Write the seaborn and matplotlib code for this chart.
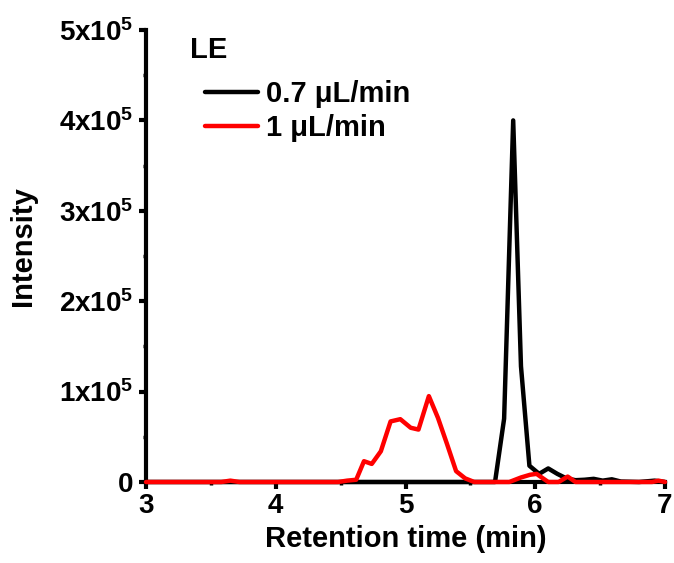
import numpy as np
import pandas as pd
import matplotlib
matplotlib.use('Agg')
import matplotlib.pyplot as plt
import seaborn as sns
from matplotlib.ticker import MultipleLocator, FuncFormatter

t_07 = [3.0, 5.62, 5.69, 5.76, 5.83, 5.89, 5.955, 6.03, 6.10, 6.17, 6.24, 6.31,
        6.38, 6.45, 6.52, 6.59, 6.66, 6.80, 6.92, 7.0]
i_07 = [0, 0, 0, 70000, 400000, 128000, 18000, 9000, 15000, 9000, 4000, 2000,
        2500, 3500, 1500, 3000, 500, 0, 1500, 0]

t_1 = [3.0, 3.58, 3.65, 3.72, 4.48, 4.55, 4.62, 4.68, 4.74, 4.81, 4.885, 4.96,
       5.04, 5.10, 5.18, 5.25, 5.32, 5.39, 5.46, 5.53, 5.80, 5.89, 5.96, 6.01,
       6.10, 6.18, 6.25, 6.31, 6.90, 6.95, 7.0]
i_1 = [0, 0, 1500, 0, 0, 1500, 2500, 23000, 20000, 34000, 67000, 69500,
       60000, 58000, 95000, 71000, 42000, 12000, 4000, 0, 0, 5000, 8000, 9000,
       0, 0, 6000, 0, 0, 1500, 0]

labels = ['0.7 \u03bcL/min', '1 \u03bcL/min']
colores = ['black', 'red']

sns.set_style('ticks')
plt.rcParams['font.family'] = ['Liberation Sans', 'DejaVu Sans']
plt.rcParams['font.weight'] = 'bold'
plt.rcParams['mathtext.fontset'] = 'custom'
plt.rcParams['mathtext.rm'] = 'Liberation Sans:bold'
plt.rcParams['mathtext.bf'] = 'Liberation Sans:bold'
plt.rcParams['mathtext.default'] = 'rm'
for k in ['text.color', 'axes.labelcolor', 'xtick.color', 'ytick.color', 'axes.edgecolor']:
    plt.rcParams[k] = 'black'

fig = plt.figure(figsize=(6.74, 5.63), dpi=100)
ax = fig.add_axes([146/674, (563-482)/563, (665-146)/674, (482-30)/563])

df07 = pd.DataFrame({'t': t_07, 'I': i_07})
df1 = pd.DataFrame({'t': t_1, 'I': i_1})
sns.lineplot(data=df07, x='t', y='I', color=colores[0], lw=3.2, label=labels[0], ax=ax, clip_on=False, zorder=5)
sns.lineplot(data=df1, x='t', y='I', color=colores[1], lw=3.2, label=labels[1], ax=ax, clip_on=False, zorder=6)

ax.set_xlim(3, 7)
ax.set_ylim(0, 5e5)
ax.xaxis.set_major_locator(MultipleLocator(1))
ax.xaxis.set_minor_locator(MultipleLocator(0.5))
ax.yaxis.set_major_locator(MultipleLocator(1e5))
ax.yaxis.set_minor_locator(MultipleLocator(0.5e5))

def fmt_y(v, pos):
    n = int(round(v / 1e5))
    if n == 0:
        return '0'
    return f'{n}x10$^{{5}}$'

ax.yaxis.set_major_formatter(FuncFormatter(fmt_y))

sns.despine(ax=ax)
for s in ['left', 'bottom']:
    ax.spines[s].set_linewidth(3)
ax.tick_params(which='major', length=5, width=3, labelsize=20, pad=3)
ax.tick_params(which='minor', length=2.5, width=2.5)
ax.tick_params(axis='y', which='major', pad=4)

ax.set_xlabel('Retention time (min)', fontsize=21, fontweight='bold', labelpad=4)
ax.set_ylabel('Intensity', fontsize=21, fontweight='bold')
ax.yaxis.set_label_coords((37-146)/519, 0.522)

fig.text(190/674, 1 - 50/563, 'LE', fontsize=21, fontweight='bold', va='center', ha='left')
ax.legend(loc='upper left', bbox_to_anchor=(205/674, 1 - 80/563), bbox_transform=fig.transFigure,
          frameon=False, fontsize=21, handlelength=1.8, handletextpad=0.28,
          labelspacing=0.2, borderpad=0, borderaxespad=0)

fig.savefig('out.png', dpi=100)
